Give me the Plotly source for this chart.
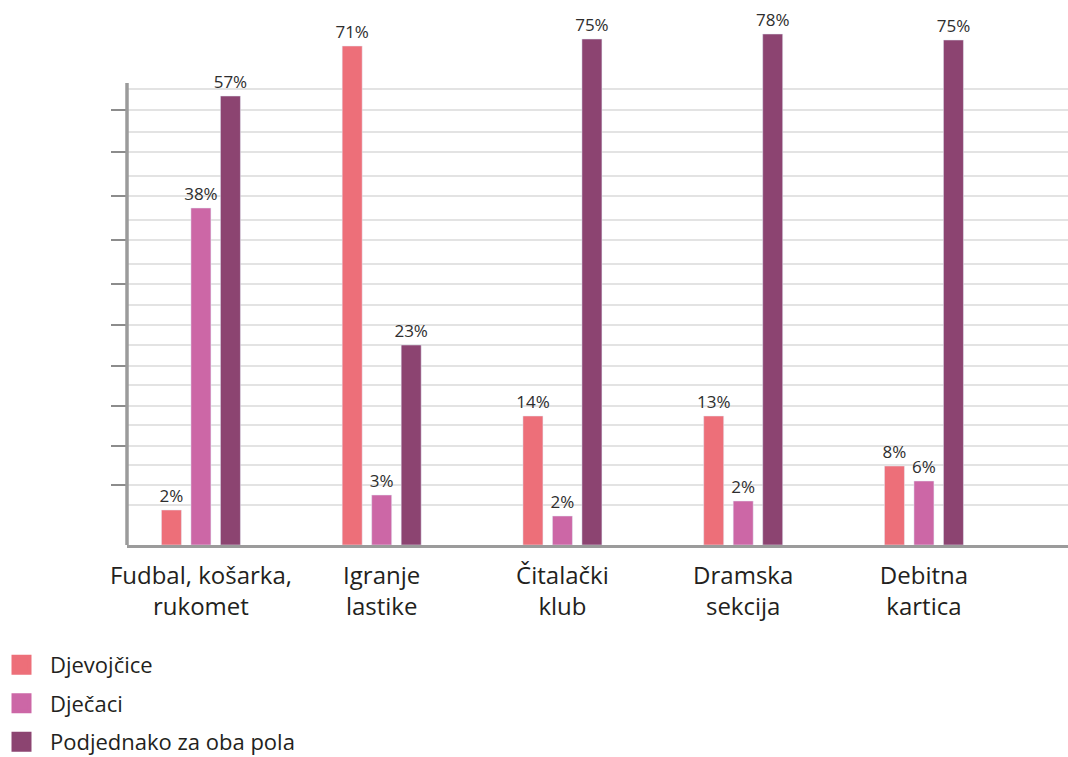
import plotly.graph_objects as go

categories = ["Fudbal, košarka,<br>rukomet", "Igranje<br>lastike", "Čitalački<br>klub",
              "Dramska<br>sekcija", "Debitna<br>kartica"]
series_names = ["Djevojčice", "Dječaci", "Podjednako za oba pola"]
colors = ["#ED6F79", "#CC67A6", "#8C4471"]

# percentages printed above the bars
djevojcice_pct = [2, 71, 14, 13, 8]
djecaci_pct = [38, 3, 2, 2, 6]
oba_pct = [57, 23, 75, 78, 75]

# bar heights as drawn in the reference (unlabelled axis, drawn units)
djevojcice_h = [35, 499, 129, 129, 79]
djecaci_h = [337, 50, 29, 44, 64]
oba_h = [449, 200, 506, 511, 505]

# unlabelled axis: grid lines and tick marks as drawn (same units)
grid_lines = [40, 60, 80, 99, 120, 139, 160, 179, 200, 220, 240, 261, 281, 305,
              325, 349, 369, 393, 413, 435, 456]
major_ticks = [60, 99, 139, 179, 220, 261, 305, 349, 393, 435]
axis_top = 462
y_range = [0, 530]

font_family = "Open Sans, Noto Sans, sans-serif"
grid_col = "#E3E3E3"
axis_col = "#9B9B9B"
tick_col = "#8C8C8C"

fig = go.Figure()
for name, col, h, pct in zip(series_names, colors,
                             [djevojcice_h, djecaci_h, oba_h],
                             [djevojcice_pct, djecaci_pct, oba_pct]):
    fig.add_trace(go.Bar(
        x=categories, y=h, name=name, marker_color=col,
        text=[f"{v}%" for v in pct], textposition="outside",
        constraintext="none",
        textfont=dict(size=17, color="#2E2E2E", family=font_family),
        cliponaxis=False, showlegend=False,
    ))
for i, (name, col) in enumerate(zip(series_names, colors)):
    fig.add_trace(go.Scatter(
        x=[None], y=[None], mode="markers", name=name,
        marker=dict(symbol="square", size=16, color=col, line=dict(color=col, width=4)),
        legendgroup=f"g{i}", showlegend=True,
    ))

fig.add_shape(type="line", xref="paper", yref="y", x0=0, x1=0, y0=0, y1=axis_top,
              line=dict(color=axis_col, width=3.5), layer="above")

fig.update_layout(
    width=1068, height=757,
    margin=dict(l=127, r=0, t=15, b=212, pad=0, autoexpand=False),
    paper_bgcolor="white", plot_bgcolor="white",
    barmode="group", bargap=0.5104, bargroupgap=0.322,
    font=dict(family=font_family, color="#231F20"),
    xaxis=dict(
        range=[-0.409, 4.797], showline=True, linecolor=axis_col, linewidth=3,
        ticks="", tickfont=dict(size=24, color="#231F20"), showgrid=False,
        zeroline=False, ticklabelstandoff=7,
    ),
    yaxis=dict(
        range=y_range, tickmode="array", tickvals=major_ticks, showticklabels=False,
        ticks="outside", ticklen=15, tickcolor=tick_col, tickwidth=1.5,
        showgrid=True, gridcolor=grid_col, gridwidth=1.5, zeroline=False, showline=False,
        minor=dict(tickmode="array", tickvals=grid_lines, showgrid=True,
                   gridcolor=grid_col, gridwidth=1.5, ticklen=0),
    ),
    yaxis2=dict(
        range=y_range, overlaying="y", side="left", tickmode="array", tickvals=major_ticks,
        showticklabels=False, ticks="inside", ticklen=14, tickcolor=tick_col, tickwidth=1.5,
        showgrid=False, zeroline=False, showline=False,
    ),
    legend=dict(
        orientation="v", x=-0.1424, xanchor="left", y=-0.1865, yanchor="top",
        font=dict(size=22, color="#231F20"), itemsizing="trace", itemwidth=47,
        tracegroupgap=7, bgcolor="rgba(0,0,0,0)",
    ),
)

page_js = (
    "document.documentElement.style.margin='0';"
    "document.documentElement.style.overflow='hidden';"
    "document.body.style.margin='0';"
    "document.body.style.overflow='hidden';"
)
fig.write_html("out.html", config={"displayModeBar": False}, post_script=page_js)
